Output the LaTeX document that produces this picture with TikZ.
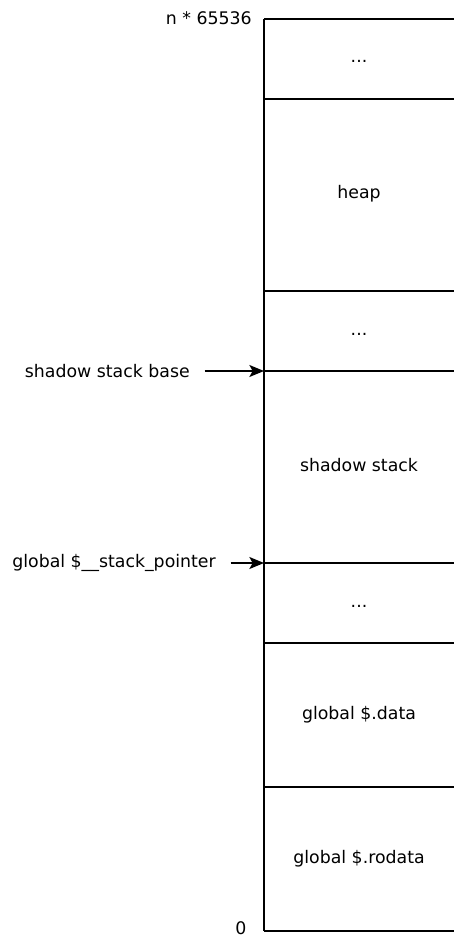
\documentclass[tikz,border=0pt]{standalone}
\usepackage{fontspec}
\setmainfont{DejaVu Sans}
\usetikzlibrary{arrows.meta}

\begin{document}
\begin{tikzpicture}[x=0.75pt,y=-0.75pt,
    lbl/.style={font=\fontsize{13}{15}\selectfont,inner sep=0pt},
    cell/.style={lbl,anchor=base},
    wall/.style={line width=1.1pt},
    ptr/.style={line width=1.1pt,-{Stealth[length=11pt,width=9pt,inset=2.5pt]},shorten <=11pt}]
  \useasboundingbox (0,0) rectangle (454,938);

  % region borders, top to bottom
  \foreach \n/\y in {t/19,a/99,b/291,c/371,d/563,e/643,f/787,z/931} {
    \coordinate (l\n) at (264,\y);
    \coordinate (r\n) at (454,\y);
    \draw[wall] (l\n) -- (r\n);
  }
  \draw[wall] (lt) -- (lz);

  % region contents
  \node[cell] (top) at (359,63) {...};
  \node[cell] (heap) at (359,199) {heap};
  \node[cell] (gap1) at (359,335) {...};
  \node[cell] (stack) at (359,471) {shadow stack};
  \node[cell] (gap2) at (359,607) {...};
  \node[cell] (data) at (359,719) {global \$.data};
  \node[cell] (rodata) at (359,863) {global \$.rodata};

  % addresses
  \node[lbl,anchor=east] (hi) at (252,18) {n * 65536};
  \node[lbl] (lo) at (241,928) {0};

  % pointers
  \node[lbl,anchor=east] (base) at (190,371) {shadow stack base};
  \node[lbl,anchor=east] (sp) at (216,563) {global \$\_\_stack\_pointer};
  \draw[ptr] (base.east) -- (lc);
  \draw[ptr] (sp.east) -- (ld);
\end{tikzpicture}
\end{document}
